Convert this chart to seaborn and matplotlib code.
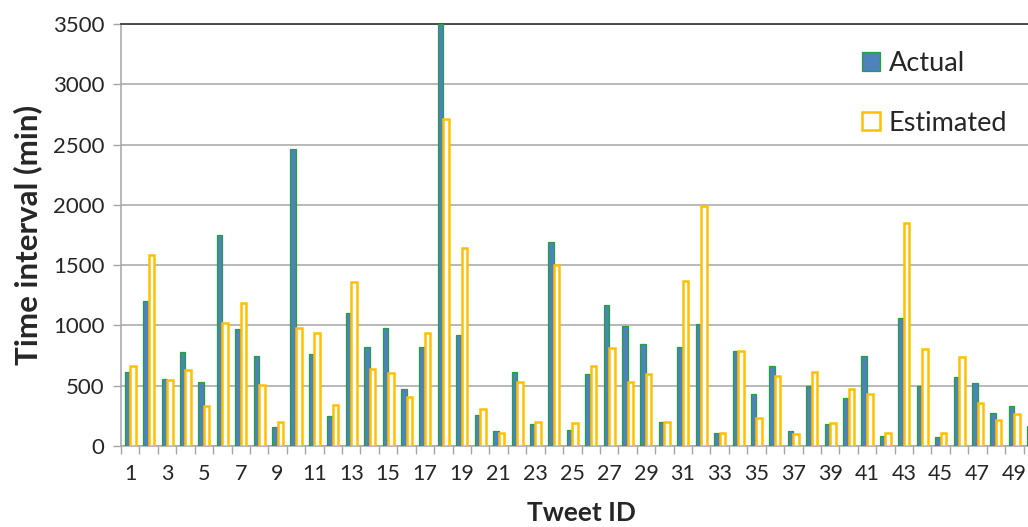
import numpy as np
import pandas as pd
import matplotlib
matplotlib.use("Agg")
import matplotlib.pyplot as plt
from matplotlib.patches import Patch
import seaborn as sns

# Time interval (minutes) per tweet
tweet_ids = list(range(1, 51))
actual = [611, 1206, 558, 778, 533, 1750, 967, 750, 156, 2464,
          767, 250, 1103, 819, 981, 475, 819, 3500, 922, 258,
          128, 611, 181, 1689, 136, 594, 1172, 992, 842, 197,
          819, 1011, 111, 786, 431, 664, 128, 494, 181, 397,
          747, 86, 1061, 497, 78, 569, 525, 275, 333, 164]
estimated = [664, 1581, 547, 633, 331, 1019, 1183, 503, 197, 975,
             936, 344, 1364, 642, 606, 408, 936, 2708, 1642, 306,
             106, 528, 197, 1503, 192, 664, 814, 528, 597, 197,
             1372, 1994, 111, 786, 231, 581, 97, 614, 192, 475,
             428, 111, 1847, 806, 111, 742, 356, 219, 269, np.nan]
series_names = ["Actual", "Estimated"]
y_ticks = [0, 500, 1000, 1500, 2000, 2500, 3000, 3500]

df = pd.DataFrame({
    "Tweet ID": [str(t) for t in tweet_ids] * 2,
    "value": actual + estimated,
    "series": [series_names[0]] * len(actual) + [series_names[1]] * len(estimated),
})

sns.set_style("white")
plt.rcParams["font.family"] = ["Lato", "DejaVu Sans"]

fig = plt.figure(figsize=(10.28, 5.27), dpi=100)
# axes runs slightly past the right edge of the canvas
ax = fig.add_axes([121 / 1028, 81 / 527, 921 / 1028, 422 / 527])

sns.barplot(data=df, x="Tweet ID", y="value", hue="series",
            hue_order=series_names, width=0.6, legend=False, ax=ax,
            palette=["#4F81BD", "#FFFFFF"], saturation=1, zorder=3)

blue, green, gold = "#4F81BD", "#1FA33A", "#FFC000"
for bar in ax.containers[0]:
    bar.set_facecolor(blue)
    bar.set_edgecolor(green)
    bar.set_linewidth(0.9)
for bar in ax.containers[1]:
    bar.set_facecolor("white")
    bar.set_edgecolor(gold)
    bar.set_linewidth(1.8)

ax.set_xlim(-0.5, len(tweet_ids) - 0.5)
ax.set_ylim(0, 3500)
ax.set_yticks(y_ticks)
ax.set_yticklabels([str(v) for v in y_ticks])
ax.yaxis.grid(True, color="#A6A6A6", linewidth=1.1, zorder=0)
ax.set_axisbelow(True)

# category labels on odd ids, tick marks at category boundaries
ax.set_xticks(range(0, len(tweet_ids), 2))
ax.set_xticklabels([str(t) for t in tweet_ids[::2]])
ax.set_xticks(np.arange(-0.5, len(tweet_ids), 1), minor=True)
ax.tick_params(axis="x", which="major", length=0, pad=13, labelsize=15.5)
ax.tick_params(axis="x", which="minor", length=6, width=1, color="#A6A6A6",
               direction="out", bottom=True)
ax.tick_params(axis="y", length=6, width=1, color="#A6A6A6", direction="out",
               left=True, labelsize=16, pad=6)

for side in ["left", "bottom"]:
    ax.spines[side].set_color("#A6A6A6")
    ax.spines[side].set_linewidth(1.1)
ax.spines["top"].set_color("#404040")
ax.spines["top"].set_linewidth(1.3)
ax.spines["right"].set_visible(False)

ax.set_xlabel("Tweet ID", fontsize=19, fontweight="bold", labelpad=12)
ax.set_ylabel("Time interval (min)", fontsize=22.5, fontweight="bold", labelpad=8)

handles = [
    Patch(facecolor=blue, edgecolor=green, linewidth=0.9, label=series_names[0]),
    Patch(facecolor="white", edgecolor=gold, linewidth=1.8, label=series_names[1]),
]
fig.legend(handles=handles, loc="upper left", bbox_to_anchor=(862 / 1028, 1 - 51 / 527),
           frameon=False, fontsize=19.5, handlelength=0.68, handleheight=0.68,
           handletextpad=0.3, labelspacing=1.28, borderpad=0, borderaxespad=0)

fig.savefig("out.png", dpi=100)
